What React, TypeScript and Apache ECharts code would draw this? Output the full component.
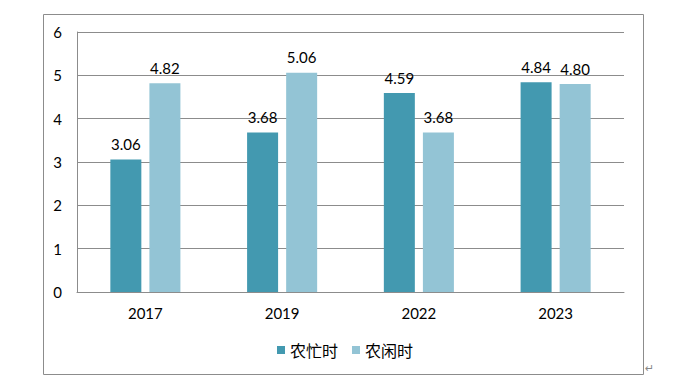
import React, { useEffect, useRef } from "react";
import * as echarts from "echarts";

const categories = ["2017", "2019", "2022", "2023"];
const busySeason = [3.06, 3.68, 4.59, 4.84];
const slackSeason = [4.82, 5.06, 3.68, 4.8];
const seriesNames = ["农忙时", "农闲时"];
const yTicks = { min: 0, max: 6, interval: 1 };

const FONT = "Lato, 'Noto Sans CJK SC', sans-serif";

export default function App() {
  const ref = useRef<HTMLDivElement>(null);
  useEffect(() => {
    if (!ref.current) return;
    const chart = echarts.init(ref.current, null, { renderer: "svg" });
    const labelOpt = {
      show: true,
      position: "top",
      distance: 8,
      color: "#000",
      fontSize: 15,
      fontFamily: FONT,
      formatter: (p: any) => Number(p.value).toFixed(2),
    };
    chart.setOption({
      animation: false,
      backgroundColor: "#fff",
      grid: { left: 77, right: 72, top: 32, bottom: 89, containLabel: false },
      legend: {
        data: seriesNames,
        left: 272,
        top: 337,
        itemWidth: 8,
        itemHeight: 8,
        itemGap: 14,
        icon: "rect",
        textStyle: { fontSize: 16, color: "#000", fontFamily: "'Noto Sans CJK SC', sans-serif" },
      },
      xAxis: {
        type: "category",
        data: categories,
        axisLine: { show: true, lineStyle: { color: "#8c8c8c", width: 1 } },
        axisTick: { show: false },
        axisLabel: { color: "#000", fontSize: 15, fontFamily: FONT, margin: 13 },
      },
      yAxis: {
        type: "value",
        min: yTicks.min,
        max: yTicks.max,
        interval: yTicks.interval,
        axisLine: { show: true, lineStyle: { color: "#8c8c8c", width: 1 } },
        axisTick: { show: false },
        splitLine: { show: true, lineStyle: { color: "#8c8c8c", width: 1 } },
        axisLabel: { color: "#000", fontSize: 15, fontFamily: FONT, margin: 15 },
      },
      series: [
        {
          name: seriesNames[0],
          type: "bar",
          data: busySeason,
          barWidth: 31,
          barGap: "26%",
          itemStyle: { color: "#4399B0" },
          label: labelOpt,
        },
        {
          name: seriesNames[1],
          type: "bar",
          data: slackSeason,
          barWidth: 31,
          itemStyle: { color: "#93C4D5" },
          label: labelOpt,
        },
      ],
      graphic: [
        {
          type: "rect",
          shape: { x: 43.5, y: 14.5, width: 600, height: 360 },
          style: { fill: "none", stroke: "#8c8c8c", lineWidth: 1 },
          silent: true,
        },
        {
          type: "text",
          x: 645,
          y: 363,
          style: { text: "↵", fill: "#888", fontSize: 11, fontFamily: "DejaVu Sans" },
          silent: true,
        },
      ],
    });
    return () => chart.dispose();
  }, []);
  return (
    <div
      ref={ref}
      style={{ position: "fixed", left: 0, top: 0, width: 696, height: 381 }}
    />
  );
}
